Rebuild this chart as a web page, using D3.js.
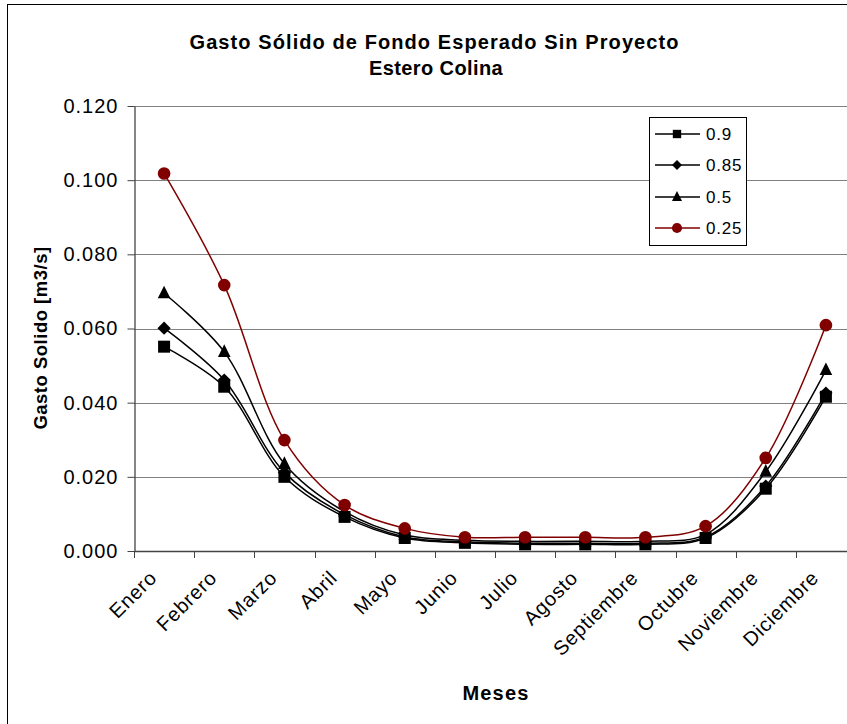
<!DOCTYPE html>
<html><head><meta charset="utf-8">
<script src="https://cdn.jsdelivr.net/npm/d3@7"></script>
<style>
html,body{margin:0;padding:0;background:#fff;}
svg{display:block;font-family:"Liberation Sans",Arial,sans-serif;}
</style></head>
<body>
<svg id="chart" width="847" height="724"></svg>
<script>
const months = ["Enero","Febrero","Marzo","Abril","Mayo","Junio","Julio","Agosto","Septiembre","Octubre","Noviembre","Diciembre"];
const seriesNames = ["0.9","0.85","0.5","0.25"];
const s090 = [0.0551,0.0443,0.0200,0.0092,0.0035,0.0022,0.0018,0.0018,0.0018,0.0035,0.0168,0.0416];
const s085 = [0.0601,0.0461,0.0212,0.0098,0.0038,0.0025,0.0021,0.0021,0.0021,0.0038,0.0175,0.0426];
const s050 = [0.0695,0.0537,0.0235,0.0106,0.0043,0.0029,0.0026,0.0026,0.0026,0.0045,0.0214,0.0488];
const s025 = [0.1018,0.0717,0.0299,0.0124,0.0061,0.0037,0.0037,0.0037,0.0037,0.0067,0.0251,0.0609];
const yTicks = [0,0.02,0.04,0.06,0.08,0.1,0.12];
const title1 = "Gasto Sólido de Fondo Esperado Sin Proyecto";
const title2 = "Estero Colina";
const yTitle = "Gasto Solido [m3/s]";
const xTitle = "Meses";

const seriesData = [s090,s085,s050,s025];
const colors = ["#000","#000","#000","#800000"];

const diamond = { draw(ctx, size){ const r = Math.sqrt(size/2); ctx.moveTo(0,-r); ctx.lineTo(r,0); ctx.lineTo(0,r); ctx.lineTo(-r,0); ctx.closePath(); } };
const triangle = { draw(ctx, size){ const s = Math.sqrt(size*2); const h = s; ctx.moveTo(0,-h*0.6); ctx.lineTo(s/2,h*0.4); ctx.lineTo(-s/2,h*0.4); ctx.closePath(); } };
const shapes = [d3.symbolSquare, diamond, triangle, d3.symbolCircle];
const sizes = [144, 88, 80, 125];
const lgSizes = [70, 50, 50, 80];

const svg = d3.select("#chart");
const L = 134, R = 856, T = 106, B = 551;

// frame
svg.append("rect").attr("x",7.5).attr("y",4.5).attr("width",900).attr("height",800)
  .attr("fill","none").attr("stroke","#000").attr("stroke-width",1);

const band = d3.scaleBand().domain(months).range([L,R]).padding(0);
const x = m => band(m) + band.bandwidth()/2;
const y = d3.scaleLinear().domain([0,0.12]).range([B,T]);

// gridlines
svg.append("g").selectAll("line").data(yTicks.filter(d=>d>0)).join("line")
  .attr("x1",L).attr("x2",R).attr("y1",d=>Math.round(y(d))+0.5).attr("y2",d=>Math.round(y(d))+0.5)
  .attr("stroke","#808080").attr("stroke-width",1.2);

// y axis
const yAxis = d3.axisLeft(y).tickValues(yTicks).tickFormat(d3.format(".3f")).tickSize(7).tickSizeOuter(0);
const gy = svg.append("g").attr("transform",`translate(${L+0.5},0)`).call(yAxis);
gy.select(".domain").attr("stroke","#444").attr("stroke-width",1.3);
gy.selectAll(".tick line").attr("stroke","#444");
gy.selectAll(".tick text").attr("font-size",20).attr("fill","#000").attr("x",-16)
  .attr("font-family","'Liberation Sans',Arial,sans-serif").style("letter-spacing","1px");

// x axis
svg.append("line").attr("x1",L).attr("x2",R).attr("y1",B+0.5).attr("y2",B+0.5).attr("stroke","#444").attr("stroke-width",1.3);
const bounds = months.map(m=>band(m)).concat([band.range()[1]]);
svg.append("g").selectAll("line").data(bounds).join("line")
  .attr("x1",d=>Math.round(d)+0.5).attr("x2",d=>Math.round(d)+0.5).attr("y1",B).attr("y2",B+7)
  .attr("stroke","#444");
svg.append("g").selectAll("text").data(months).join("text")
  .attr("transform",d=>`translate(${x(d)-6},${B+28}) rotate(-45)`)
  .attr("text-anchor","end").attr("font-size",20).attr("fill","#000")
  .style("letter-spacing","0.8px").text(d=>d);

// lines
const line = d3.line().x((d,i)=>x(months[i])).y(d=>y(d)).curve(d3.curveCatmullRom.alpha(0.5));
seriesData.forEach((s,k)=>{
  svg.append("path").datum(s).attr("d",line).attr("fill","none")
    .attr("stroke",colors[k]).attr("stroke-width",1.5);
});
seriesData.forEach((s,k)=>{
  svg.append("g").selectAll("path").data(s).join("path")
    .attr("transform",(d,i)=>`translate(${x(months[i])},${y(d)})`)
    .attr("d",d3.symbol().type(shapes[k]).size(sizes[k])).attr("fill",colors[k]);
});

// legend
const lg = svg.append("g");
lg.append("rect").attr("x",649.5).attr("y",117.5).attr("width",97).attr("height",128)
  .attr("fill","#fff").attr("stroke","#000").attr("stroke-width",1);
const lgY = [134,165,197,228];
seriesNames.forEach((n,k)=>{
  const yy = lgY[k];
  lg.append("line").attr("x1",655).attr("x2",700).attr("y1",yy).attr("y2",yy).attr("stroke",colors[k]).attr("stroke-width",1.5);
  lg.append("path").attr("transform",`translate(677,${yy})`).attr("d",d3.symbol().type(shapes[k]).size(lgSizes[k])).attr("fill",colors[k]);
  lg.append("text").attr("x",706).attr("y",yy+6).attr("font-size",17).style("letter-spacing","0.8px").text(n);
});

// titles
svg.append("text").attr("x",434).attr("y",49).attr("text-anchor","middle").attr("font-size",20).attr("font-weight","bold")
  .attr("textLength",489).attr("lengthAdjust","spacing").text(title1);
svg.append("text").attr("x",436).attr("y",75).attr("text-anchor","middle").attr("font-size",20).attr("font-weight","bold")
  .style("letter-spacing","0.4px").text(title2);
svg.append("text").attr("transform","translate(47,338) rotate(-90)").attr("text-anchor","middle").attr("font-size",18.5).attr("font-weight","bold")
  .style("letter-spacing","0.5px").text(yTitle);
svg.append("text").attr("x",496).attr("y",700).attr("text-anchor","middle").attr("font-size",20).attr("font-weight","bold")
  .style("letter-spacing","1.2px").text(xTitle);
</script>
</body></html>
